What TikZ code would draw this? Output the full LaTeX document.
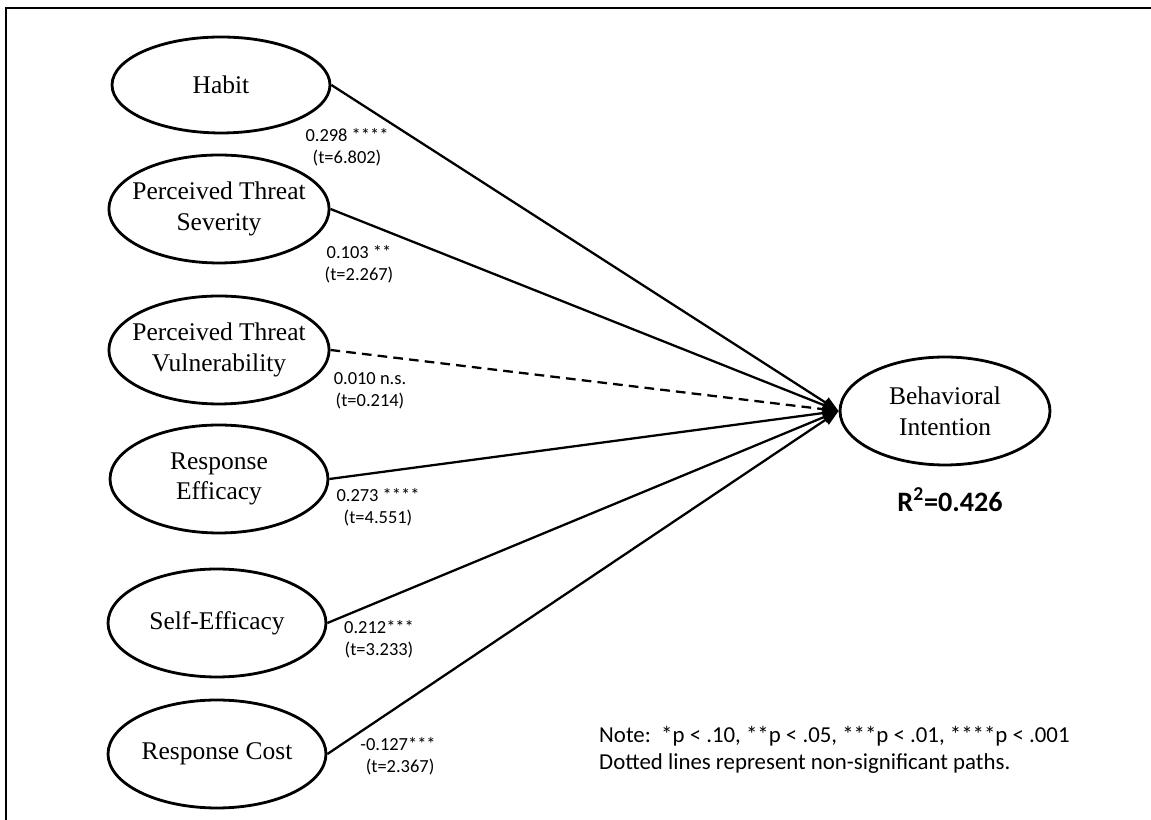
\documentclass[tikz,border=0pt]{standalone}
\usepackage{fontspec}
\setmainfont{Liberation Serif}
\newfontfamily\calibri{Carlito}
\usetikzlibrary{shapes.geometric,arrows.meta,positioning}

\begin{document}
\begin{tikzpicture}[x=0.02cm, y=0.02cm,
    construct/.style={ellipse, draw, line width=1.6pt, minimum width=4.36cm, minimum height=2.16cm, inner xsep=-5pt, inner ysep=2pt, align=center, font=\fontsize{14.5}{17.5}\selectfont},
    effect/.style={line width=1.3pt, -{Triangle[length=9pt,width=6.5pt]}},
    coef/.style={align=center, font=\calibri\fontsize{10.5}{12.5}\selectfont}]
    \useasboundingbox (0,0) rectangle (1151,820);
    \draw[line width=1.1pt] (6,0) -- (6,812) -- (1151,812);

    % Predictors
    \node[construct, minimum height=1.92cm] (habit) at (221,735) {Habit};
    \node[construct] (sev) at (219,611) {Perceived Threat\\Severity};
    \node[construct] (vul) at (219,470) {Perceived Threat\\Vulnerability};
    \node[construct] (reseff) at (219,341) {Response\\Efficacy};
    \node[construct] (selfeff) at (217,197) {Self-Efficacy};
    \node[construct] (cost) at (217,66) {Response Cost};

    % Outcome
    \node[construct, minimum width=4.2cm] (bi) at (945,409) {Behavioral\\Intention};
    \node[font=\calibri\bfseries\fontsize{16}{18}\selectfont] (rsq) at (950,320) {R\textsuperscript{2}=0.426};

    % Paths
    \draw[effect] (habit.east) -- (bi.west);
    \draw[effect] (sev.east) -- (bi.west);
    \draw[effect, dash pattern=on 5.5pt off 3.5pt] (vul.east) -- (bi.west);
    \draw[effect] (reseff.east) -- (bi.west);
    \draw[effect] (selfeff.east) -- (bi.west);
    \draw[effect] (cost.east) -- (bi.west);

    % Coefficients
    \node[coef] (c1) at (347,673) {0.298 ****\\(t=6.802)};
    \node[coef] (c2) at (359,556) {0.103 **\\(t=2.267)};
    \node[coef] (c3) at (370,429) {0.010 n.s.\\(t=0.214)};
    \node[coef] (c4) at (378,313) {0.273 ****\\(t=4.551)};
    \node[coef] (c5) at (379,181) {0.212***\\(t=3.233)};
    \node[coef] (c6) at (398,64) {-0.127***\\\ (t=2.367)};

    % Note
    \node[anchor=west, align=left, font=\calibri\fontsize{13}{15}\selectfont] (note) at (593,70) {Note:\ \ *p < .10, **p < .05, ***p < .01, ****p < .001\\Dotted lines represent non-significant paths.};
\end{tikzpicture}
\end{document}
